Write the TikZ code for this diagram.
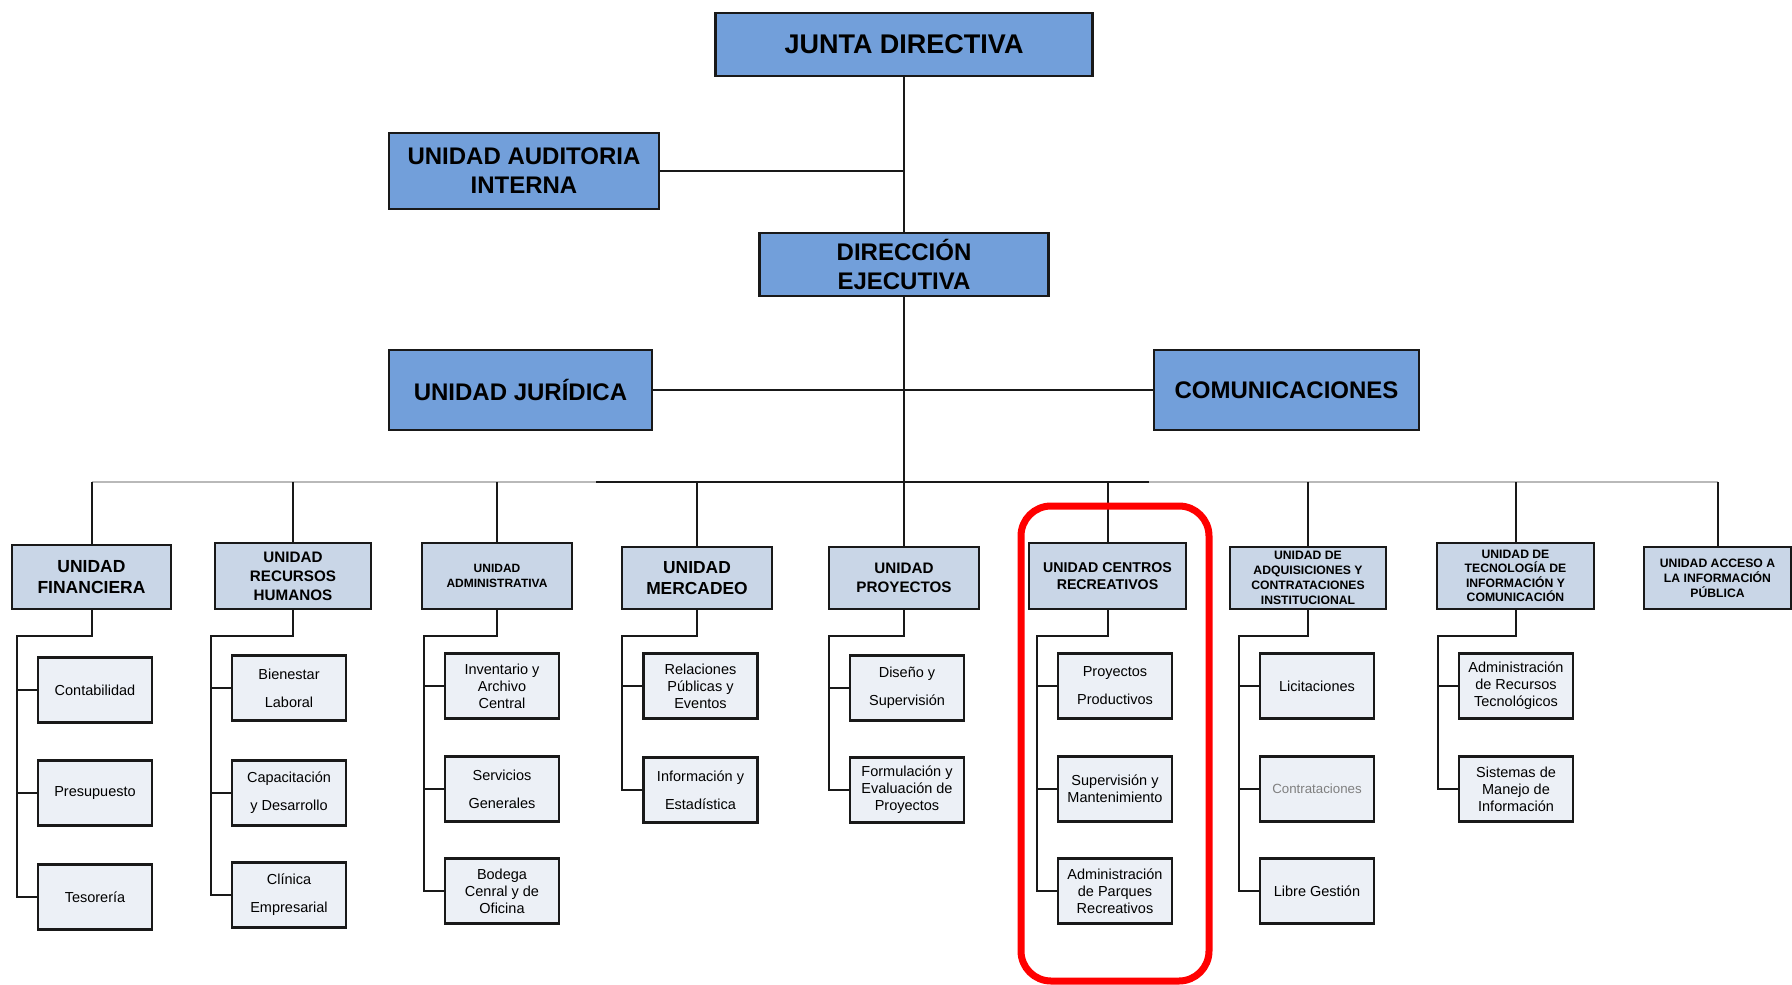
\documentclass[tikz,border=0pt]{standalone}
\usepackage{fontspec}
\setmainfont{Liberation Sans}
\usepackage{xcolor}
\usetikzlibrary{positioning, calc}

\definecolor{topblue}{HTML}{729FDA}
\definecolor{unitblue}{HTML}{C9D6E7}
\definecolor{subblue}{HTML}{ECF0F6}

\tikzset{
  topbox/.style={draw=black!90, line width=2.2pt, fill=topblue, align=center, inner sep=0pt,
    font=\bfseries\fontsize{24}{29}\selectfont},
  unitbox/.style={draw=black!90, line width=2.2pt, fill=unitblue, align=center, inner sep=0pt,
    minimum height=62pt},
  subbox/.style={draw=black!90, line width=2.2pt, fill=subblue, align=center, inner sep=0pt,
    minimum width=114pt, minimum height=65pt, font=\fontsize{14.5}{17}\selectfont},
  loose/.style={font=\fontsize{14.5}{28}\selectfont},
  conn/.style={line width=2pt, black!90},
}

\begin{document}
\begin{tikzpicture}[x=1pt, y=-1pt]
\useasboundingbox (0,0) rectangle (1792,985);

% upper levels
\node[topbox, minimum width=377pt, minimum height=63pt, font=\bfseries\fontsize{27}{32}\selectfont] (junta) at (904,44.5) {JUNTA DIRECTIVA};
\node[topbox, minimum width=270pt, minimum height=76pt] (aud) at (524,171) {UNIDAD AUDITORIA\\INTERNA};
\node[topbox, minimum width=289pt, minimum height=63pt] (dir) at (904,264.5) {DIRECCIÓN\\EJECUTIVA};
\node[topbox, minimum width=263pt, minimum height=80pt] (jur) at (520.5,390) {UNIDAD JURÍDICA};
\node[topbox, minimum width=265pt, minimum height=80pt] (com) at (1286.5,390) {COMUNICACIONES};

\draw[conn] (junta.south) -- (dir.north);
\draw[conn] (aud.east) -- (aud.east -| junta.south);
\draw[conn] (jur.east) -- (com.west);

% units
\node[unitbox, minimum width=159pt, minimum height=64pt, font=\bfseries\fontsize{17.5}{21.5}\selectfont] (fin) at (91.5,577) {UNIDAD\\FINANCIERA};
\node[unitbox, minimum width=156pt, minimum height=66pt, font=\bfseries\fontsize{15.2}{19}\selectfont] (rh) at (293,576) {UNIDAD\\RECURSOS\\HUMANOS};
\node[unitbox, minimum width=150pt, minimum height=66pt, font=\bfseries\fontsize{12}{15}\selectfont] (adm) at (497,576) {UNIDAD\\ADMINISTRATIVA};
\node[unitbox, minimum width=150pt, font=\bfseries\fontsize{17.4}{21.5}\selectfont] (mer) at (697,578) {UNIDAD\\MERCADEO};
\node[unitbox, minimum width=150pt, font=\bfseries\fontsize{15.2}{19}\selectfont] (pro) at (904,578) {UNIDAD\\PROYECTOS};
\node[unitbox, minimum width=157pt, minimum height=66pt, font=\bfseries\fontsize{14.2}{17}\selectfont] (cen) at (1107.5,576) {UNIDAD CENTROS\\RECREATIVOS};
\node[unitbox, minimum width=156pt, font=\bfseries\fontsize{12.2}{15}\selectfont] (adq) at (1308,578) {UNIDAD DE\\ADQUISICIONES Y\\CONTRATACIONES\\INSTITUCIONAL};
\node[unitbox, minimum width=157pt, minimum height=66pt, font=\bfseries\fontsize{12.2}{14.5}\selectfont] (tec) at (1515.5,576) {UNIDAD DE\\TECNOLOGÍA DE\\INFORMACIÓN Y\\COMUNICACIÓN};
\node[unitbox, minimum width=147pt, font=\bfseries\fontsize{12.2}{15}\selectfont] (acc) at (1717.5,578) {UNIDAD ACCESO A\\LA INFORMACIÓN\\PÚBLICA};

% bus to the units
\coordinate (bus) at (0,482);
\coordinate (busA) at (596,482);
\coordinate (busB) at (1149,482);
\draw[conn] (dir.south) -- (dir.south |- bus);
\draw[conn, gray!55, line width=2.5pt] (fin.north |- bus) -- (acc.north |- bus);
\draw[conn] (busA) -- (busB);
\foreach \u in {fin,rh,adm,mer,pro,cen,adq,tec,acc}
  \draw[conn] (\u.north |- bus) -- (\u.north);

% sections
\node[subbox] (fin1) at (95,690) {Contabilidad};
\node[subbox] (fin2) at (95,793) {Presupuesto};
\node[subbox] (fin3) at (95,897) {Tesorería};

\node[subbox, loose] (rh1) at (289,688) {Bienestar\\Laboral};
\node[subbox, loose] (rh2) at (289,793) {Capacitación\\y Desarrollo};
\node[subbox, loose] (rh3) at (289,895) {Clínica\\Empresarial};

\node[subbox] (adm1) at (502,686) {Inventario y\\Archivo\\Central};
\node[subbox, loose] (adm2) at (502,789) {Servicios\\Generales};
\node[subbox] (adm3) at (502,891) {Bodega\\Cenral y de\\Oficina};

\node[subbox] (mer1) at (700.5,686) {Relaciones\\Públicas y\\Eventos};
\node[subbox, loose] (mer2) at (700.5,790) {Información y\\Estadística};

\node[subbox, loose] (pro1) at (907,688) {Diseño y\\Supervisión};
\node[subbox] (pro2) at (907,790) {Formulación y\\Evaluación de\\Proyectos};

\node[subbox, loose] (cen1) at (1115,686) {Proyectos\\Productivos};
\node[subbox] (cen2) at (1115,789) {Supervisión y\\Mantenimiento};
\node[subbox] (cen3) at (1115,891) {Administración\\de Parques\\Recreativos};

\node[subbox] (adq1) at (1317,686) {Licitaciones};
\node[subbox, text=gray, font=\fontsize{13.3}{17}\selectfont] (adq2) at (1317,789) {Contrataciones};
\node[subbox] (adq3) at (1317,891) {Libre Gestión};

\node[subbox] (tec1) at (1516,686) {Administración\\de Recursos\\Tecnológicos};
\node[subbox] (tec2) at (1516,789) {Sistemas de\\Manejo de\\Información};

% rails down each unit
\foreach \u/\n in {fin/3, rh/3, adm/3, mer/2, pro/2, cen/3, adq/3, tec/2} {
  \draw[conn] (\u.south) -- ++(0,26) -| ($(\u\n.west)+(-20,0)$) -- (\u\n.west);
  \foreach \k in {1,...,\n}
    \draw[conn] (\u\k.west) -- ++(-20,0);
}

% highlight
\draw[red, line width=7pt, rounded corners=30pt] (1021,506) rectangle (1209,981);
\end{tikzpicture}
\end{document}
